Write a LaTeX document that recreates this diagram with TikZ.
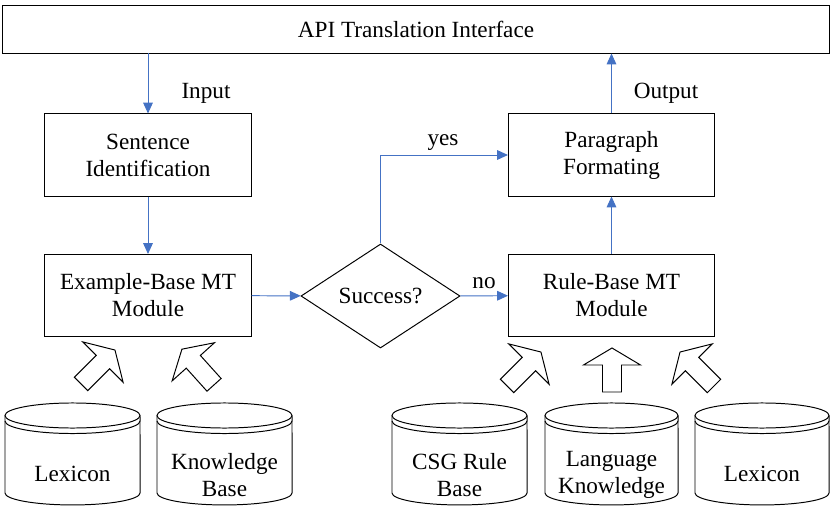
\documentclass[tikz,border=0pt]{standalone}
\usepackage{fontspec}
\setmainfont{Liberation Serif}
\usetikzlibrary{shapes.geometric,arrows.meta}

\definecolor{flowblue}{RGB}{68,114,196}

% hollow block arrow: centre, angle, half length
\newcommand{\hollowarrow}[3]{%
  \draw[shift={#1},rotate=#2] (-#3,-9.5) -- (#3-17,-9.5) -- (#3-17,-28.5) -- (#3,0)
    -- (#3-17,28.5) -- (#3-17,9.5) -- (-#3,9.5) -- cycle;}

% data store drum: left edge, right edge
\newcommand{\datastore}[2]{%
  \draw ({(#1+#2)/2},415.5) ellipse [x radius={(#2-#1)*0.35566pt}, y radius=8.9pt];
  \draw (#1,415.5) -- (#1,421) arc [start angle=180, end angle=360, x radius={(#2-#1)*0.35566pt}, y radius=8.9pt] -- (#2,415.5);
  \draw (#1,421) -- (#1,493) arc [start angle=180, end angle=360, x radius={(#2-#1)*0.35566pt}, y radius=8.5pt] -- (#2,421);}

\begin{document}
\begin{tikzpicture}[x=0.025cm, y=-0.025cm, line width=0.7pt,
                    font=\rmfamily\fontsize{16.5}{19.2}\selectfont,
                    box/.style={draw, minimum width=5.15cm, minimum height=2.05cm, align=center},
                    test/.style={draw, diamond, minimum width=3.975cm, minimum height=2.6cm, inner sep=0pt},
                    flow/.style={draw=flowblue, -{Triangle[length=0.27cm, width=0.24cm]}, fill=none}
                ]
  \useasboundingbox (0,0) rectangle (831,506);

  % interface bar
  \node[draw, minimum width=20.65cm, minimum height=1.2cm] (api) at (416,29) {API Translation Interface};

  % main flow
  \node[box] (sent) at (148,155) {Sentence\\Identification};
  \node[box] (ebmt) at (148,295.5) {Example-Base MT\\Module};
  \node[test] (succ) at (380.5,296) {Success?};
  \node[box] (para) at (611.5,155) {Paragraph\\Formating};
  \node[box] (rbmt) at (611.5,295.5) {Rule-Base MT\\Module};

  \draw[flow] (sent.north |- api.south) -- (sent.north);
  \draw[flow] (sent) -- (ebmt);
  \draw[flow] (ebmt) -- (succ);
  \draw[flow] (succ) -- (rbmt);
  \draw[flow] (succ.north) |- (para.west);
  \draw[flow] (rbmt) -- (para);
  \draw[flow] (para.north) -- (para.north |- api.south);

  \node (input) at (206,93) {Input};
  \node (output) at (666,93) {Output};
  \node (yes) at (443,143) {yes};
  \node (no) at (484,283) {no};

  % knowledge sources
  \hollowarrow{(98,367)}{45}{24}
  \hollowarrow{(198,367)}{132}{24}
  \hollowarrow{(524,369)}{45}{24}
  \hollowarrow{(612,370)}{90}{22}
  \hollowarrow{(697,369)}{135}{24}

  \datastore{5}{140}
  \datastore{157}{292}
  \datastore{392}{527}
  \datastore{545}{678}
  \datastore{695}{829}

  \node (lex1) at (72.5,474) {Lexicon};
  \node[align=center] (know) at (224.5,475) {Knowledge\\Base};
  \node[align=center] (csg) at (459.5,475) {CSG Rule\\Base};
  \node[align=center] (lang) at (611.5,475) {Language\\Knowledge};
  \node (lex2) at (762,474) {Lexicon};

\end{tikzpicture}
\end{document}
